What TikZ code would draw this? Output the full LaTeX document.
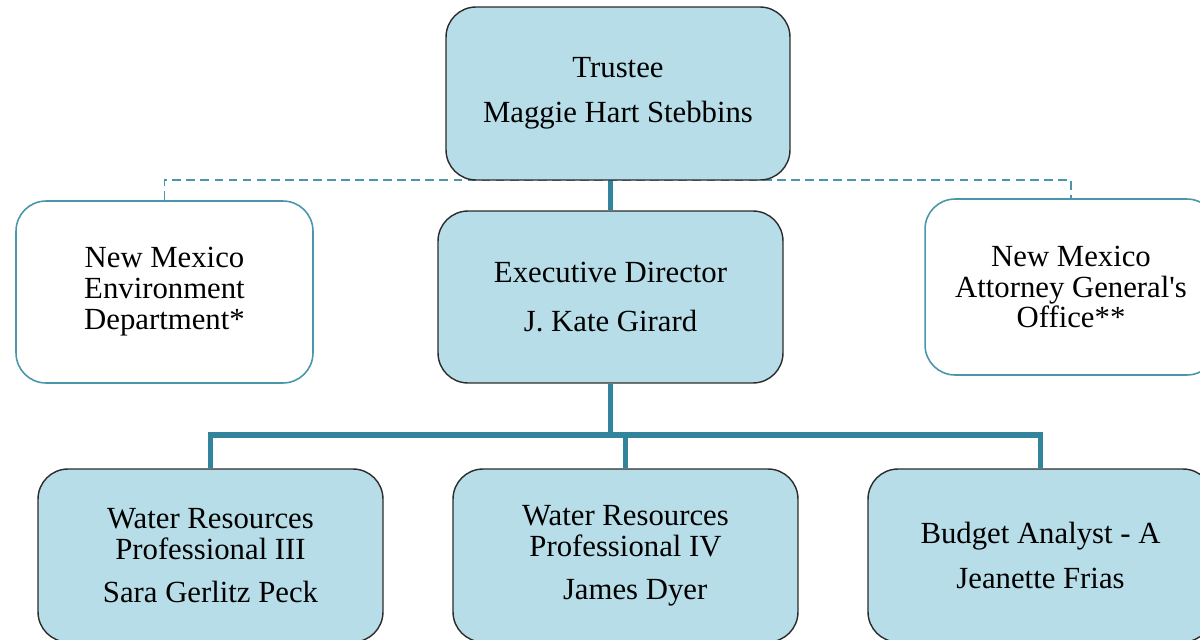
\documentclass[tikz,border=0pt]{standalone}
\usepackage{fontspec}
\setmainfont{Liberation Serif}
\definecolor{boxfill}{HTML}{B7DDE8}
\definecolor{teal}{HTML}{31849B}
\definecolor{lightteal}{HTML}{4A97AB}
\definecolor{edge}{HTML}{2B2B2B}
\begin{document}
\begin{tikzpicture}[x=0.02cm,y=-0.02cm,
  base/.style={rounded corners=0.6cm, align=center, inner sep=0pt,
    font=\fontsize{17.5pt}{17.6pt}\selectfont},
  bluebox/.style={base, draw=edge, line width=0.8pt, fill=boxfill},
  whitebox/.style={base, draw=lightteal, line width=0.9pt, fill=white},
  solidlink/.style={draw=teal, line width=3pt},
  dashlink/.style={draw=lightteal, line width=0.8pt, dash pattern=on 5pt off 3pt}]
\useasboundingbox (0,0) rectangle (1200,639);
\clip (0,0) rectangle (1200,639);
% nodes
\node[whitebox, minimum width=5.94cm, minimum height=3.64cm] (nmed) at (164.5,292)
  {New Mexico\\Environment\\Department*};
\node[whitebox, minimum width=5.84cm, minimum height=3.52cm] (ag) at (1071,287)
  {New Mexico\\Attorney General\textquotesingle s\\Office**};
% dashed advisory lines (behind trustee)
\draw[dashlink] (nmed.north) |- (1071,180) -- (ag.north);
\node[bluebox, minimum width=6.88cm, minimum height=3.46cm] (trustee) at (618,93.5)
  {Trustee\\[8pt]Maggie Hart Stebbins};
\node[bluebox, minimum width=6.9cm, minimum height=3.44cm] (exec) at (610.5,297)
  {Executive Director\\[10pt]J. Kate Girard};
\node[bluebox, minimum width=6.9cm, minimum height=3.46cm] (wr3) at (210.5,555.5)
  {Water Resources\\Professional III\\[7pt]Sara Gerlitz Peck};
\node[bluebox, minimum width=6.9cm, minimum height=3.46cm] (wr4) at (625.5,555.5)
  {Water Resources\\Professional IV\\[7pt]\hspace*{11pt}James Dyer};
\node[bluebox, minimum width=6.9cm, minimum height=3.46cm] (ba) at (1040.5,555.5)
  {Budget Analyst - A\\[8pt]Jeanette Frias};
% solid connectors
\draw[solidlink] (exec.north) -- (exec.north |- trustee.south);
\coordinate (bus) at (610.5,435);
\draw[solidlink] (exec.south) -- (bus);
\draw[solidlink] (bus) -| (wr3.north);
\draw[solidlink] (bus) -| (ba.north);
\draw[solidlink] (bus) -| (wr4.north);
\end{tikzpicture}
\end{document}
